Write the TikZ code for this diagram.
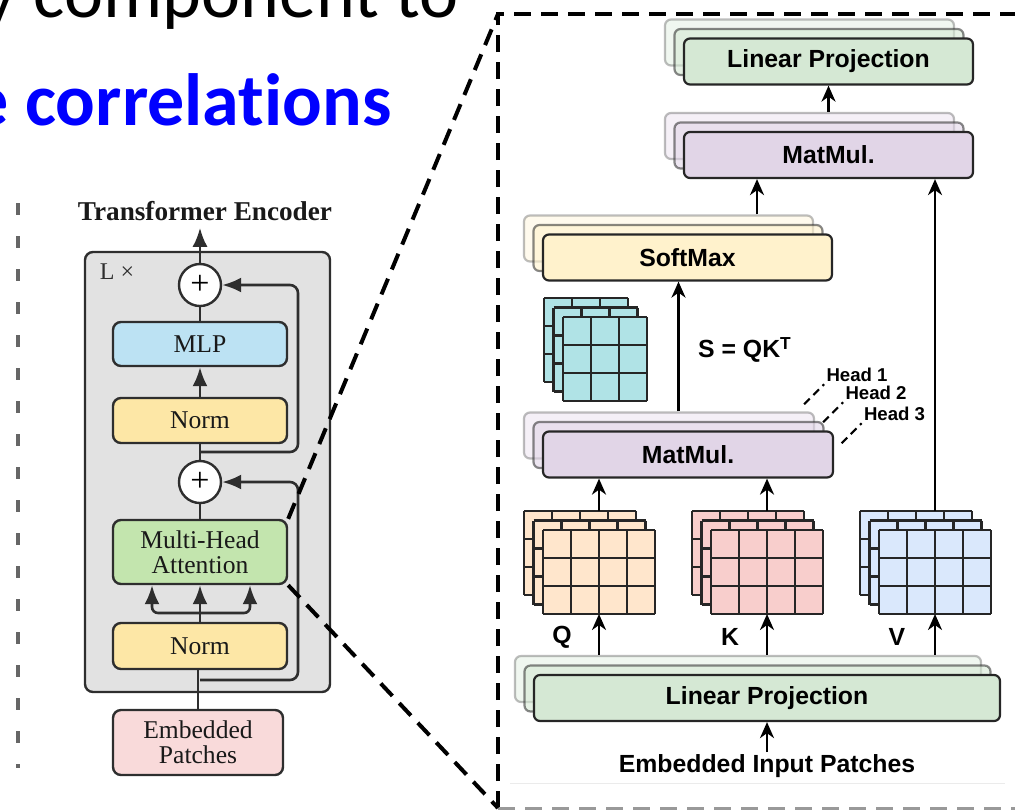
\documentclass[tikz,border=0pt]{standalone}
\usepackage{fontspec}
\setmainfont{Liberation Serif}
\setsansfont{Liberation Sans}
\newfontfamily\slidefont[Ligatures=NoCommon]{Carlito}
\usepackage{xcolor}
\usepackage{tikz}
\usetikzlibrary{arrows.meta,calc}
\definecolor{vitgray}{HTML}{E2E2E2}
\definecolor{vitdark}{HTML}{2E2E2E}
\definecolor{vitblue}{HTML}{BCE2F3}
\definecolor{vityellow}{HTML}{FDE7A6}
\definecolor{vitgreen}{HTML}{C3E5AE}
\definecolor{vitpink}{HTML}{F9DADA}
\definecolor{attdark}{HTML}{262626}
\definecolor{attgreen}{HTML}{D5E8D4}
\definecolor{attpurple}{HTML}{E1D5E7}
\definecolor{attyellow}{HTML}{FFF2CC}
\definecolor{attcyan}{HTML}{B0E3E6}
\definecolor{attorange}{HTML}{FFE6CC}
\definecolor{attred}{HTML}{F8CECC}
\definecolor{attblue}{HTML}{DAE8FC}
\definecolor{slideblue}{HTML}{0000FF}
\tikzset{
  encframe/.style={draw=vitdark,line width=1.2pt,rounded corners=4pt,fill=vitgray},
  encbox/.style={draw=vitdark,line width=1.2pt,rounded corners=4pt,align=center,
                 minimum width=87pt,inner sep=0pt,text=black!90,
                 font=\fontsize{12.8}{12.6}\selectfont},
  addnode/.style={circle,draw=vitdark,line width=1.2pt,fill=white,minimum size=21pt,
                  inner sep=0pt,font=\fontsize{17}{17}\selectfont},
  encline/.style={draw=vitdark,line width=1.3pt},
  encflow/.style={encline,-{Latex[length=9.5pt,width=7.5pt]}},
  attbox/.style={draw=attdark,line width=1.1pt,rounded corners=3pt,minimum height=23pt,
                 inner sep=0pt,font=\sffamily\bfseries\fontsize{12.4}{13}\selectfont},
  ghostnear/.style={draw opacity=0.55,fill opacity=0.6},
  ghostfar/.style={draw opacity=0.3,fill opacity=0.35},
  attflow/.style={-{Stealth[length=8pt,width=7pt,inset=2.5pt]},line width=1.2pt,draw=black},
  attlabel/.style={font=\sffamily\bfseries\fontsize{12.4}{13}\selectfont,inner sep=1pt},
  headlabel/.style={font=\sffamily\bfseries\fontsize{9.3}{10}\selectfont,inner sep=1pt},
  headline/.style={line width=1pt,dash pattern=on 4pt off 2.5pt},
  gridline/.style={draw=attdark,line width=1.1pt},
  zoomline/.style={line width=2pt,dash pattern=on 8.5pt off 5pt},
  sideline/.style={draw=black!60,line width=2pt,dash pattern=on 6pt off 10.5pt}
}
% three stacked heads: two faded copies behind the front box
\newcommand{\stackbox}[5]{%
  \node[attbox,ghostfar,fill=#2,minimum width=#4] (#1-s2) at ($(#3)+(-19,-19)$) {};
  \node[attbox,ghostnear,fill=#2,minimum width=#4] (#1-s1) at ($(#3)+(-9.5,-9.5)$) {};
  \node[attbox,fill=#2,minimum width=#4] (#1) at (#3) {#5};
}
% feature map: three layers of cells
\newcommand{\featgrid}[6]{%
  \foreach \gk in {2,1,0}{
    \begin{scope}[shift={(-9.5*\gk,-9.5*\gk)}]
      \fill[#2] (#3,#4) rectangle ++(28*#5,28*#6);
      \foreach \gi in {0,...,#5} \draw[gridline] (#3+28*\gi,#4) -- ++(0,28*#6);
      \foreach \gj in {0,...,#6} \draw[gridline] (#3,#4+28*\gj) -- ++(28*#5,0);
    \end{scope}
  }
  \coordinate (#1-in) at (#3+14*#5,#4+28*#6);
  \coordinate (#1-out) at (#3+14*#5,#4-19);
}

\begin{document}
\begin{tikzpicture}[x=0.5pt,y=-0.5pt]
    \useasboundingbox (0,0) rectangle (1015,810);
    \clip (0,0) rectangle (1015,810);

    \node[anchor=base west,inner sep=0pt,font=\slidefont\fontsize{37}{40}\selectfont] (tagline) at (-17,17) {y component to};
    \node[anchor=base west,inner sep=0pt,font=\slidefont\bfseries\fontsize{37}{40}\selectfont,text=slideblue] (keyword) at (-29,125) {e correlations};

    \draw[sideline] (18,203) -- (18,768);

    % encoder block
    \node[font=\bfseries\fontsize{13.6}{14}\selectfont,text=black!90] (title) at (205,211) {Transformer Encoder};
    \node[encframe,minimum width=122.5pt,minimum height=220pt] (encoder) at (207.5,472) {};
    \node[font=\fontsize{12}{12}\selectfont,text=vitdark] (repeat) at (117,272) {L ×};
    \node[addnode] (addtop) at (200,285) {+};
    \node[encbox,fill=vitblue,minimum height=22pt] (mlp) at (200,344) {MLP};
    \node[encbox,fill=vityellow,minimum height=22.5pt] (normtop) at (200,420.5) {Norm};
    \node[addnode] (addmid) at (200,482) {+};
    \node[encbox,fill=vitgreen,minimum height=32pt] (mha) at (200,552) {Multi-Head\\Attention};
    \node[encbox,fill=vityellow,minimum height=23pt] (normbot) at (200,646) {Norm};
    \node[encbox,fill=vitpink,minimum width=85pt,minimum height=32.5pt] (embed) at (198,742.5) {Embedded\\Patches};

    \coordinate (skipx) at (298,0);
    \coordinate (res1) at (200,452);
    \coordinate (res2) at (200,680);
    \coordinate (fork) at (200,613);
    \coordinate (forkL) at (152,613);
    \coordinate (forkR) at (250,613);

    \draw[encflow] (addtop) -- (addtop |- title.south);
    \draw[encline] (mlp) -- (addtop);
    \draw[encflow] (normtop) -- (mlp);
    \draw[encline] (addmid) -- (normtop);
    \draw[encflow,rounded corners=4pt] (res1) -- (res1 -| skipx) |- (addtop);
    \draw[encline] (mha) -- (addmid);
    \draw[encline] (normbot) -- (fork);
    \draw[encflow] (fork) -- (mha);
    \draw[encflow,rounded corners=3pt] (fork) -| (forkL |- mha.south);
    \draw[encflow,rounded corners=3pt] (fork) -| (forkR |- mha.south);
    \draw[encflow,rounded corners=4pt] (res2) -- (res2 -| skipx) |- (addmid);
    \draw[encline] (embed) -- (embed |- normbot.south);

    % attention detail
    \stackbox{linTop}{attgreen}{828.5,61.5}{144.5pt}{Linear Projection}
    \stackbox{matTop}{attpurple}{828.5,155}{144.5pt}{MatMul.}
    \stackbox{softmax}{attyellow}{687.5,257.5}{144.5pt}{SoftMax}
    \stackbox{matLow}{attpurple}{688,454.5}{145pt}{MatMul.}
    \stackbox{linBot}{attgreen}{767,698}{233pt}{Linear Projection}

    \featgrid{sgrid}{attcyan}{563}{317}{3}{3}
    \featgrid{qgrid}{attorange}{543}{530}{4}{3}
    \featgrid{kgrid}{attred}{711}{530}{4}{3}
    \featgrid{vgrid}{attblue}{879}{530}{4}{3}

    \node[attlabel] (qlabel) at (562,637) {Q};
    \node[attlabel] (klabel) at (730,637) {K};
    \node[attlabel] (vlabel) at (897,637) {V};
    \node[attlabel] (score) at (745,350) {S = QK\textsuperscript{T}};
    \node[headlabel] (head1) at (857,375) {Head 1};
    \node[headlabel] (head2) at (876,393) {Head 2};
    \node[headlabel] (head3) at (894.5,414) {Head 3};
    \node[attlabel] (patches) at (767,766) {Embedded Input Patches};

    \coordinate (scorex) at (757,0);
    \draw[attflow] (linBot-s2.north -| qgrid-in) -- (qgrid-in);
    \draw[attflow] (linBot-s2.north -| kgrid-in) -- (kgrid-in);
    \draw[attflow] (linBot-s2.north -| vgrid-in) -- (vgrid-in);
    \draw[attflow] (qgrid-out) -- (qgrid-out |- matLow.south);
    \draw[attflow] (kgrid-out) -- (kgrid-out |- matLow.south);
    \draw[attflow] (vgrid-out) -- (vgrid-out |- matTop.south);
    \draw[attflow] (matLow-s1.center |- matLow-s2.north) -- (matLow-s1.center |- softmax.south);
    \draw[attflow] (scorex |- softmax-s2.north) -- (scorex |- matTop.south);
    \draw[attflow] (matTop-s2.north -| linTop) -- (linTop.south);
    \draw[attflow] (patches) -- (linBot);
    \draw[headline] ($(head1.south west)+(-20,20)$) -- (head1.south west);
    \draw[headline] ($(head2.south west)+(-20,20)$) -- (head2.south west);
    \draw[headline] ($(head3.south west)+(-20,20)$) -- (head3.south west);
    \draw[black!8,line width=0.5pt] (510,783) -- (1005,783);

    % zoom frame
    \coordinate (zoomTL) at (498,14);
    \coordinate (zoomBL) at (498,808);
    \coordinate (zoomTR) at (1020,14);
    \coordinate (zoomBR) at (1020,808);
    \draw[zoomline] (zoomBL) -- (zoomTL) -- (zoomTR);
    \draw[zoomline,draw=gray!80,line width=1.5pt] (zoomBL) -- (zoomBR);
    \draw[zoomline] (mha.north east) -- (zoomTL);
    \draw[zoomline] (mha.south east) -- (zoomBL);
  \end{tikzpicture}
\end{document}
